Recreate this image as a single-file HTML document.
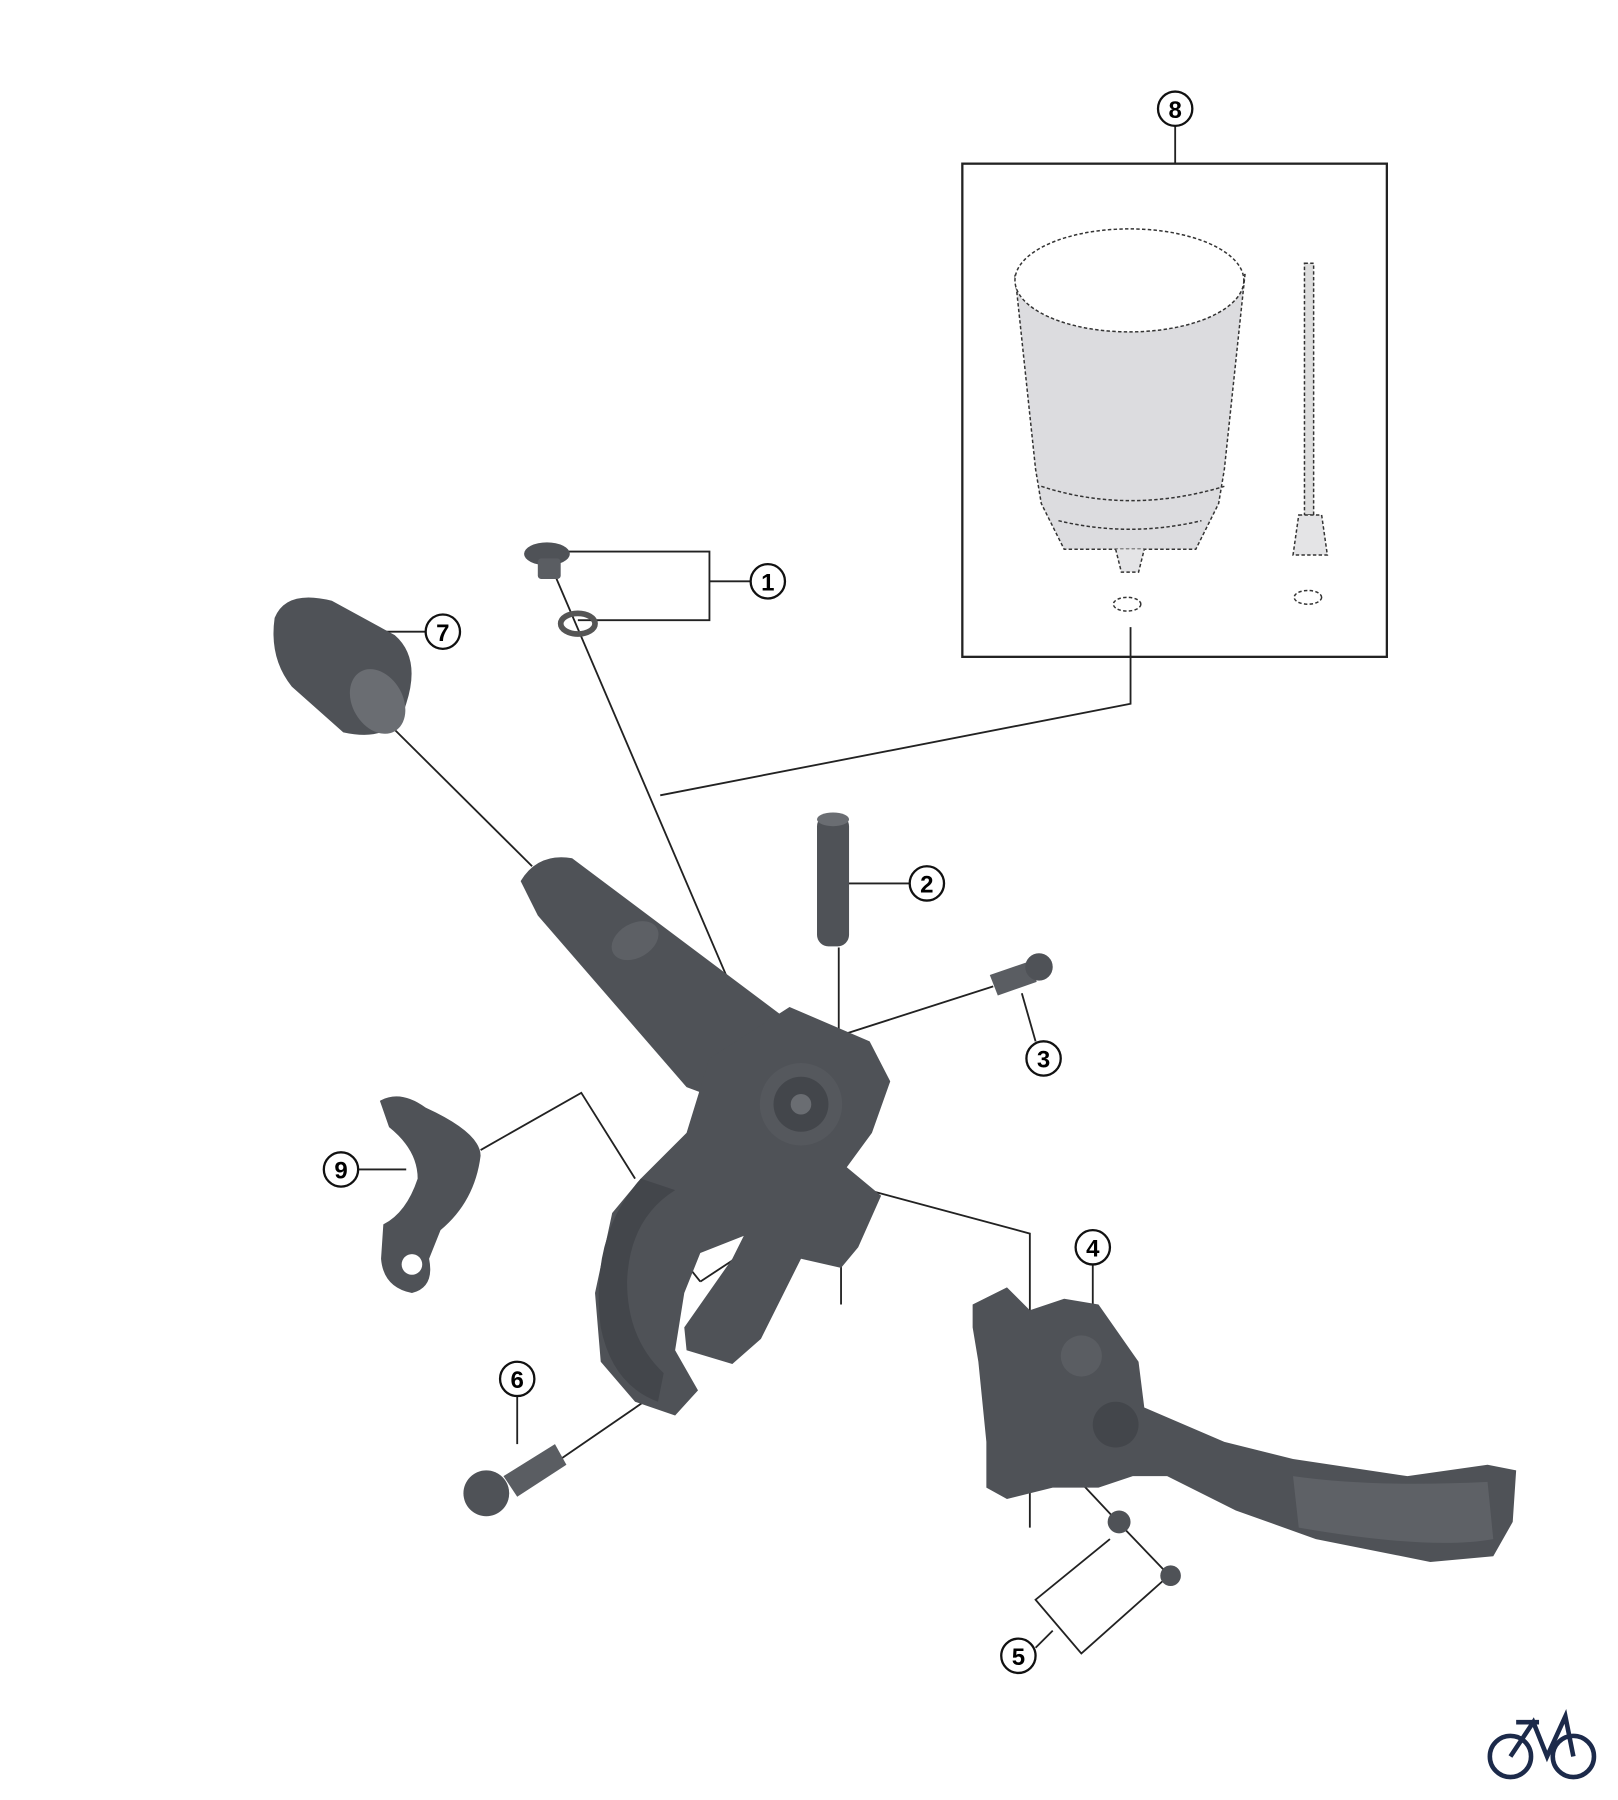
<!DOCTYPE html>
<html><head><meta charset="utf-8"><style>
html,body{margin:0;padding:0;background:#fff;}
svg{display:block;}
text{font-family:"Liberation Sans",sans-serif;font-weight:bold;}
</style></head><body>
<svg width="1618" height="1800" viewBox="0 0 1414 1573" xmlns="http://www.w3.org/2000/svg">
<rect width="1414" height="1573" fill="#fff"/>
<g fill="none" stroke="#222" stroke-width="1.6">
<!-- 8 -->
<line x1="1027" y1="110" x2="1027" y2="143"/>
<rect x="841" y="143" width="371" height="431" stroke-width="2"/>
<path d="M988 548 V615 L577 695"/>
<!-- 1 -->
<path d="M490 482 H620 V542 H505 M620 508 H656"/>
<line x1="483" y1="498" x2="655" y2="900"/>
<!-- 7 -->
<line x1="336" y1="552" x2="372" y2="552"/>
<line x1="312" y1="605" x2="465" y2="757"/>
<!-- 2 -->
<line x1="740" y1="772" x2="795" y2="772"/>
<line x1="733" y1="828" x2="733" y2="900"/>
<!-- 3 -->
<line x1="712" y1="912" x2="868" y2="862"/>
<line x1="893" y1="868" x2="905" y2="910"/>
<!-- 9 -->
<line x1="313" y1="1022" x2="355" y2="1022"/>
<path d="M420 1005 L508 955 L555 1030"/>
<!-- 6 -->
<line x1="452" y1="1220" x2="452" y2="1262"/>
<line x1="490" y1="1275" x2="570" y2="1220"/>
<!-- 4 -->
<path d="M740 1035 L900 1078 V1335"/>
<line x1="955" y1="1105" x2="955" y2="1145"/>
<line x1="735" y1="1105" x2="735" y2="1140"/>
<line x1="600" y1="1105" x2="612" y2="1120"/>
<line x1="612" y1="1120" x2="650" y2="1095"/>
<!-- 5 -->
<path d="M928 1278 L975 1328 L1020 1375"/>
<path d="M970 1345 L905 1398 L945 1445 L1018 1380 M905 1440 L920 1425"/>
</g>
<!-- reservoir dashed -->
<g stroke="#333" stroke-width="1.3" stroke-dasharray="3,2" fill="#e4e4e6">
<path d="M887 240 L905 410 L910 440 L930 480 L1045 480 L1065 440 L1070 410 L1088 240 Z" fill="#dcdcdf"/>
<ellipse cx="987" cy="245" rx="100" ry="45" fill="#fff"/>
<path d="M910 425 Q987 450 1070 425" fill="none"/>
<path d="M925 455 Q987 470 1050 455" fill="none"/>
<path d="M975 480 L980 500 L995 500 L1000 480" />
<ellipse cx="985" cy="528" rx="12" ry="6" fill="#fff"/>
<rect x="1140" y="230" width="8" height="220" fill="#ddd"/>
<path d="M1135 450 L1155 450 L1160 485 L1130 485 Z"/>
<ellipse cx="1143" cy="522" rx="12" ry="6" fill="#fff"/>
</g>
<!-- parts -->
<g fill="#4f5257">
<!-- cap 1 & ring -->
<ellipse cx="478" cy="484" rx="20" ry="10"/>
<rect x="470" y="488" width="20" height="18" rx="3" fill="#5a5d62"/>
<ellipse cx="505" cy="545" rx="15" ry="9" fill="none" stroke="#555" stroke-width="5"/>
<!-- 7 grip -->
<path d="M240 540 Q250 515 290 525 L345 555 Q368 575 355 615 Q345 650 300 640 L255 600 Q235 575 240 540 Z"/>
<ellipse cx="330" cy="613" rx="22" ry="30" transform="rotate(-30 330 613)" fill="#6a6d72"/>
<!-- 2 pin -->
<rect x="714" y="712" width="28" height="115" rx="10"/>
<ellipse cx="728" cy="716" rx="14" ry="6" fill="#6a6d72"/>
<!-- 3 bolt -->
<path d="M865 852 L900 840 L906 858 L872 870 Z" fill="#5a5d62"/>
<circle cx="908" cy="845" r="12"/>
<!-- main tube -->
<path d="M455 770 Q470 745 500 750 L700 900 L640 965 L600 950 L470 800 Z"/>
<ellipse cx="555" cy="822" rx="22" ry="15" transform="rotate(-30 555 822)" fill="#5d6065"/>
<!-- body -->
<path d="M620 925 L690 880 L760 910 L778 945 L762 990 L740 1020 L770 1045 L750 1090 L735 1108 L700 1100 L665 1170 L640 1192 L600 1180 L598 1160 L640 1100 L650 1080 L612 1095 L598 1130 L590 1180 L610 1215 L590 1237 L555 1225 L525 1190 L520 1130 L535 1060 L560 1030 L600 990 Z"/>
<path d="M560 1030 Q515 1080 525 1160 Q535 1210 575 1225 L580 1200 Q548 1170 548 1120 Q550 1065 590 1040 Z" fill="#43464b"/>
<circle cx="700" cy="965" r="36" fill="#55585d"/>
<circle cx="700" cy="965" r="24" fill="#43464b"/>
<circle cx="700" cy="965" r="9" fill="#6a6d72"/>
<!-- 9 bracket -->
<path d="M332 962 Q350 952 372 968 Q420 990 420 1010 Q415 1050 385 1075 L375 1100 Q380 1125 360 1130 Q335 1125 333 1100 L335 1070 Q355 1060 365 1030 Q365 1005 340 985 Z"/>
<circle cx="360" cy="1105" r="9" fill="#fff"/>
<!-- 6 bolt -->
<path d="M440 1290 L485 1262 L495 1280 L452 1308 Z" fill="#5a5d62"/>
<circle cx="425" cy="1305" r="20"/>
<!-- 4 lever -->
<path d="M850 1140 L880 1125 L900 1145 L930 1135 L960 1140 L995 1190 L1000 1230 L1070 1260 L1130 1275 L1230 1290 L1300 1280 L1325 1285 L1322 1330 L1305 1360 L1250 1365 L1150 1345 L1080 1320 L1020 1290 L990 1290 L960 1300 L920 1300 L880 1310 L862 1300 L862 1260 L855 1190 L850 1160 Z"/>
<path d="M1130 1290 Q1200 1300 1300 1295 L1305 1345 Q1250 1355 1135 1335 Z" fill="#5e6166"/>
<circle cx="945" cy="1185" r="18" fill="#5a5d62"/>
<circle cx="975" cy="1245" r="20" fill="#43464b"/>
<!-- 5 -->
<circle cx="978" cy="1330" r="10"/>
<circle cx="1023" cy="1377" r="9"/>
</g>
<!-- labels -->
<g font-size="21" text-anchor="middle">
<g fill="#fff" stroke="#111" stroke-width="2">
<circle cx="1027" cy="95" r="15"/><circle cx="671" cy="508" r="15"/><circle cx="387" cy="552" r="15"/>
<circle cx="810" cy="772" r="15"/><circle cx="912" cy="925" r="15"/><circle cx="298" cy="1022" r="15"/>
<circle cx="452" cy="1205" r="15"/><circle cx="955" cy="1090" r="15"/><circle cx="890" cy="1447" r="15"/>
</g>
<text x="1027" y="103">8</text><text x="671" y="516">1</text><text x="387" y="560">7</text>
<text x="810" y="780">2</text><text x="912" y="933">3</text><text x="298" y="1030">9</text>
<text x="452" y="1213">6</text><text x="955" y="1098">4</text><text x="890" y="1455">5</text>
</g>
<!-- bike logo -->
<g fill="none" stroke="#1c2a4a" stroke-width="4">
<circle cx="1320" cy="1535" r="18"/><circle cx="1375" cy="1535" r="18"/>
<path d="M1320 1535 L1340 1505 L1352 1535 L1368 1500 L1375 1535 M1325 1505 H1345"/>
</g>
</svg>
</body></html>
